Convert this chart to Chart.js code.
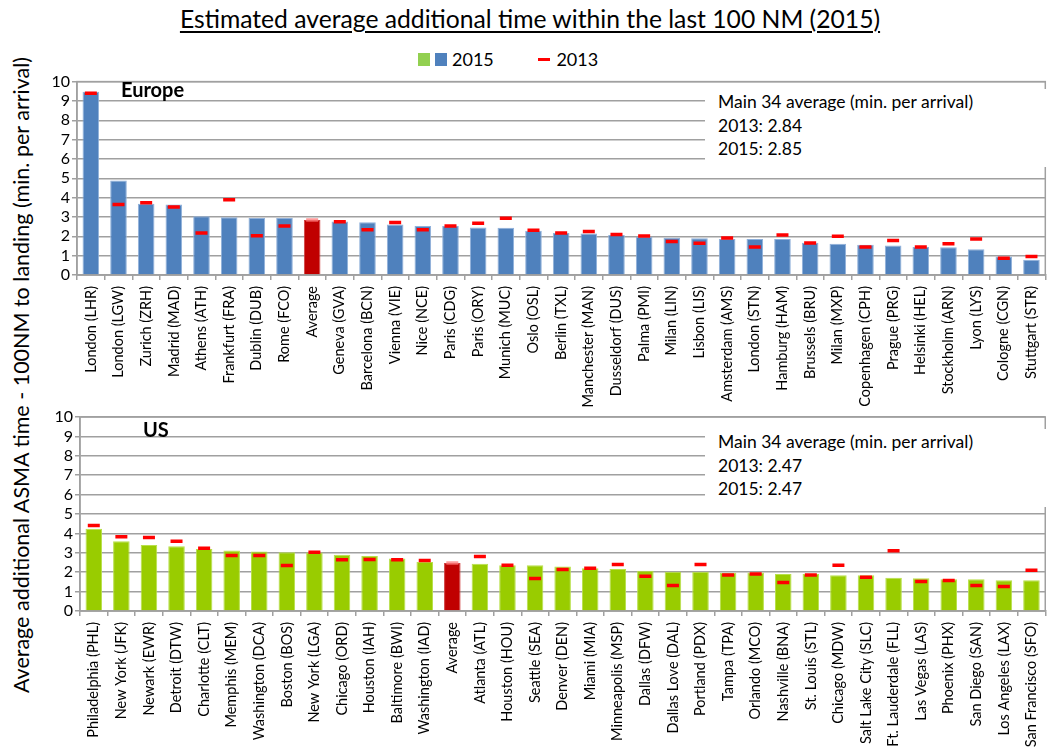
<!DOCTYPE html>
<html>
<head>
<meta charset="utf-8">
<script src="https://cdn.jsdelivr.net/npm/chart.js@4.4.1/dist/chart.umd.min.js"></script>
<style>
  body { margin: 0; width: 1055px; height: 749px; background: #fff; position: relative; overflow: hidden;
         font-family: Lato, "Liberation Sans", sans-serif; color: #000; }
  .wrap { position: absolute; left: 0; width: 1055px; }
  #title { position: absolute; top: 4px; left: 0; width: 1060px; text-align: center; font-size: 24.7px; text-decoration: underline; text-underline-offset: 3px; }
  #legend { position: absolute; top: 46px; left: 418px; font-size: 18px; white-space: nowrap; }
  #legend span { display: inline-block; vertical-align: middle; }
  .sw { width: 12px; height: 13px; margin-right: 5px; }
  .dash { width: 12px; height: 3px; background: #ff0000; margin: 0 6px 0 40px; }
  #ytitle { position: absolute; left: 21px; top: 375px; transform: translate(-50%, -50%) rotate(-90deg); white-space: nowrap; font-size: 21.5px; }
  .region { position: absolute; font-weight: bold; font-size: 20px; }
  .note { position: absolute; background: #fff; font-size: 17.5px; line-height: 23.5px; padding: 1px 0 0 13px; box-sizing: border-box; }
</style>
</head>
<body>
<div id="title">Estimated average additional time within the last 100 NM (2015)</div>
<div id="legend">
  <span class="sw" style="background:#92d050"></span><span class="sw" style="background:#4f81bd"></span><span>2015</span>
  <span class="dash"></span><span>2013</span>
</div>
<div id="ytitle">Average additional ASMA time - 100NM to landing (min. per arrival)</div>

<div class="wrap" style="top:70px;height:340px"><canvas id="europe-chart" width="1055" height="340"></canvas></div>
<div class="wrap" style="top:405px;height:344px"><canvas id="us-chart" width="1055" height="344"></canvas></div>

<div class="region" style="left:121px;top:77px">Europe</div>
<div class="region" style="left:143px;top:417px">US</div>
<div class="note" id="europe-note" style="left:705px;top:89px;width:343px;height:78px"></div>
<div class="note" id="us-note" style="left:705px;top:429px;width:343px;height:78px"></div>

<script>
// Europe: 34 main airports plus the average, sorted by 2015 value
const europeLabels = ['London (LHR)', 'London (LGW)', 'Zurich (ZRH)', 'Madrid (MAD)', 'Athens (ATH)',
    'Frankfurt (FRA)', 'Dublin (DUB)', 'Rome (FCO)', 'Average', 'Geneva (GVA)', 'Barcelona (BCN)',
    'Vienna (VIE)', 'Nice (NCE)', 'Paris (CDG)', 'Paris (ORY)', 'Munich (MUC)', 'Oslo (OSL)',
    'Berlin (TXL)', 'Manchester (MAN)', 'Dusseldorf (DUS)', 'Palma (PMI)', 'Milan (LIN)',
    'Lisbon (LIS)', 'Amsterdam (AMS)', 'London (STN)', 'Hamburg (HAM)', 'Brussels (BRU)',
    'Milan (MXP)', 'Copenhagen (CPH)', 'Prague (PRG)', 'Helsinki (HEL)', 'Stockholm (ARN)',
    'Lyon (LYS)', 'Cologne (CGN)', 'Stuttgart (STR)'];
const europe2015 = [9.48, 4.88, 3.69, 3.65, 3.04, 2.99, 2.95, 2.95, 2.85, 2.76, 2.73,
    2.61, 2.53, 2.53, 2.46, 2.44, 2.29, 2.17, 2.15, 2.07, 1.98, 1.93,
    1.90, 1.86, 1.86, 1.86, 1.67, 1.61, 1.56, 1.52, 1.45, 1.44, 1.33, 0.96, 0.79];
const europe2013 = [9.40, 3.65, 3.73, 3.52, 2.17, 3.89, 2.03, 2.53, 2.84, 2.75, 2.34,
    2.71, 2.34, 2.53, 2.68, 2.94, 2.31, 2.17, 2.25, 2.10, 2.02, 1.73,
    1.64, 1.91, 1.45, 2.07, 1.66, 2.00, 1.45, 1.78, 1.45, 1.61, 1.86, 0.86, 0.96];

// US: 34 main airports plus the average
const usLabels = ['Philadelphia (PHL)', 'New York (JFK)', 'Newark (EWR)', 'Detroit (DTW)',
    'Charlotte (CLT)', 'Memphis (MEM)', 'Washington (DCA)', 'Boston (BOS)', 'New York (LGA)',
    'Chicago (ORD)', 'Houston (IAH)', 'Baltimore (BWI)', 'Washington (IAD)', 'Average',
    'Atlanta (ATL)', 'Houston (HOU)', 'Seattle (SEA)', 'Denver (DEN)', 'Miami (MIA)',
    'Minneapolis (MSP)', 'Dallas (DFW)', 'Dallas Love (DAL)', 'Portland (PDX)', 'Tampa (TPA)',
    'Orlando (MCO)', 'Nashville (BNA)', 'St. Louis (STL)', 'Chicago (MDW)', 'Salt Lake City (SLC)',
    'Ft. Lauderdale (FLL)', 'Las Vegas (LAS)', 'Phoenix (PHX)', 'San Diego (SAN)',
    'Los Angeles (LAX)', 'San Francisco (SFO)'];
const us2015 = [4.24, 3.59, 3.40, 3.34, 3.19, 3.12, 3.07, 3.03, 3.02, 2.90, 2.83, 2.71,
    2.53, 2.47, 2.43, 2.36, 2.36, 2.29, 2.21, 2.16, 2.07, 2.02, 2.02, 1.97,
    1.98, 1.91, 1.91, 1.84, 1.84, 1.72, 1.69, 1.64, 1.64, 1.59, 1.59];
const us2013 = [4.41, 3.83, 3.79, 3.59, 3.24, 2.86, 2.86, 2.34, 3.03, 2.64, 2.66, 2.64,
    2.60, 2.47, 2.81, 2.36, 1.67, 2.14, 2.21, 2.40, 1.79, 1.31, 2.40, 1.86,
    1.91, 1.47, 1.86, 2.36, 1.74, 3.10, 1.52, 1.57, 1.31, 1.26, 2.10];

const yMin = 0;
const yMax = 10;
const yStep = 1;

const FONT = 'Lato, "Liberation Sans", sans-serif';
const GRID = '#a0a0a0';

// Frame around the plot area (left axis, right edge, baseline)
const plotFrame = {
    id: 'plotFrame',
    beforeDatasetsDraw(chart) {
        const a = chart.chartArea;
        const ctx = chart.ctx;
        ctx.save();
        ctx.strokeStyle = GRID;
        ctx.lineWidth = 1.5;
        ctx.strokeRect(a.left, a.top, a.right - a.left, a.bottom - a.top);
        ctx.restore();
    }
};

function makeChart(id, labels, v2015, v2013, barColor, barEdge, box) {
    const avgIdx = labels.indexOf('Average');
    const colors = labels.map((l, i) => i === avgIdx ? '#c00000' : barColor);
    const edges = labels.map((l, i) => i === avgIdx ? '#d04040' : barEdge);
    const marks = labels.map((l, i) => i === avgIdx ? 'rgba(255,120,120,0.75)' : '#ff0000');

    return new Chart(document.getElementById(id), {
        type: 'bar',
        data: {
            labels: labels,
            datasets: [{
                type: 'line',
                label: '2013',
                data: v2013,
                showLine: false,
                pointStyle: 'line',
                pointRadius: 6,
                pointBorderWidth: 3.5,
                pointBorderColor: marks,
                pointHoverRadius: 6,
                order: 0
            }, {
                label: '2015',
                data: v2015,
                backgroundColor: colors,
                borderColor: edges,
                borderWidth: 1,
                borderSkipped: 'bottom',
                categoryPercentage: 1,
                barPercentage: 0.6,
                order: 1
            }]
        },
        options: {
            responsive: false,
            animation: false,
            layout: { padding: { top: box.top, right: 5, left: 0, bottom: 0 } },
            plugins: { legend: { display: false }, tooltip: { enabled: false } },
            scales: {
                x: {
                    // short tick marks between categories, below the axis only
                    grid: { display: true, offset: true, drawOnChartArea: false, color: GRID, lineWidth: 1.5, tickLength: 5 },
                    border: { display: true, color: GRID, width: 1.5 },
                    ticks: {
                        autoSkip: false,
                        minRotation: 90,
                        maxRotation: 90,
                        padding: 6,
                        color: '#000',
                        font: { family: FONT, size: 14.5 }
                    },
                    afterFit: function(scale) { scale.height = box.xHeight; }
                },
                y: {
                    min: yMin,
                    max: yMax,
                    grid: { color: GRID, lineWidth: 1.5, tickLength: 5 },
                    border: { display: true, color: GRID, width: 1.5 },
                    ticks: {
                        stepSize: yStep,
                        autoSkip: false,
                        padding: 2,
                        color: '#000',
                        font: { family: FONT, size: 16 }
                    },
                    afterFit: function(scale) { scale.width = box.yWidth; }
                }
            }
        },
        plugins: [plotFrame]
    });
}

function noteText(v2013, v2015, labels) {
    const i = labels.indexOf('Average');
    return 'Main 34 average (min. per arrival)<br>2013: ' + v2013[i].toFixed(2) +
        '<br>2015: ' + v2015[i].toFixed(2);
}

makeChart('europe-chart', europeLabels, europe2015, europe2013, '#4f81bd', '#8fb0da',
    { top: 10, xHeight: 135, yWidth: 77 });
makeChart('us-chart', usLabels, us2015, us2013, '#99cc00', '#b8e04a',
    { top: 12, xHeight: 138, yWidth: 80 });

document.getElementById('europe-note').innerHTML = noteText(europe2013, europe2015, europeLabels);
document.getElementById('us-note').innerHTML = noteText(us2013, us2015, usLabels);
</script>
</body>
</html>
